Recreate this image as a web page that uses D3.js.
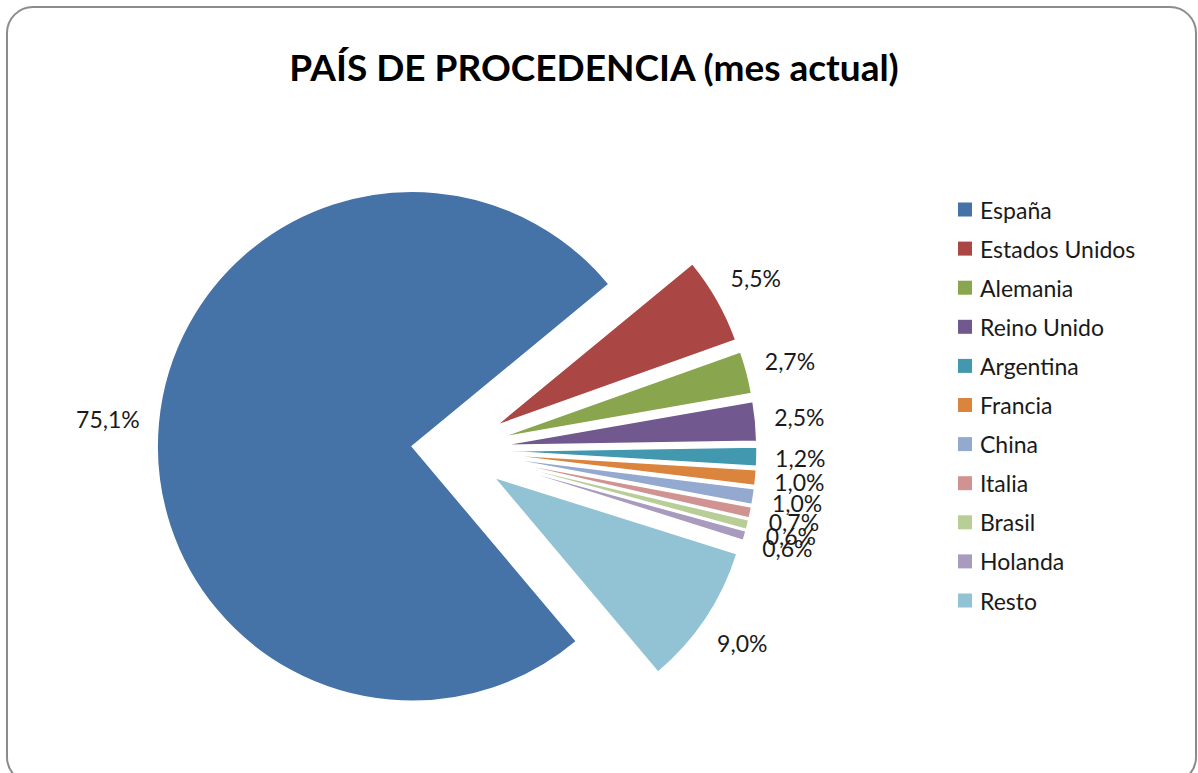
<!DOCTYPE html>
<html>
<head>
<meta charset="utf-8">
<script src="https://cdn.jsdelivr.net/npm/d3@7"></script>
<style>
  html, body { margin: 0; padding: 0; background: #fff; }
  svg { display: block; }
  text { font-family: Lato, "Open Sans", sans-serif; fill: #1a1a1a; }
</style>
</head>
<body>
<svg id="chart" width="1198" height="773"></svg>
<script>
// ---- data ----
const categories = ["España", "Estados Unidos", "Alemania", "Reino Unido", "Argentina",
                    "Francia", "China", "Italia", "Brasil", "Holanda", "Resto"];
const values = [75.1, 5.5, 2.7, 2.5, 1.2, 1.0, 1.0, 0.7, 0.6, 0.6, 9.0];
const labels = ["75,1%", "5,5%", "2,7%", "2,5%", "1,2%", "1,0%", "1,0%", "0,7%", "0,6%", "0,6%", "9,0%"];
const colors = ["#4572A7", "#AA4643", "#89A54E", "#71588F", "#4198AF", "#DB843D",
                "#93A9CF", "#D19392", "#B9CD96", "#A99BBD", "#92C3D4"];
const title = "PAÍS DE PROCEDENCIA (mes actual)";

// ---- layout ----
const W = 1198, H = 773;
const svg = d3.select("#chart");

svg.append("rect")
  .attr("x", 7).attr("y", 7)
  .attr("width", 1189).attr("height", 776)
  .attr("rx", 26).attr("ry", 26)
  .attr("fill", "#fff")
  .attr("stroke", "#8c8c8c").attr("stroke-width", 2);

svg.append("text")
  .attr("x", 594).attr("y", 81)
  .attr("text-anchor", "middle")
  .style("font-size", "37px").style("font-weight", "bold")
  .style("fill", "#000")
  .text(title);

const cx = 453, cy = 450, R = 255;
const deg = Math.PI / 180;
const startA = 139.9 * deg;

const pie = d3.pie().sort(null).value(d => d)
  .startAngle(startA).endAngle(startA + 2 * Math.PI);
const arcs = pie(values);
const arc = d3.arc().innerRadius(0).outerRadius(R);

function explodeFor(i) { return i === 0 ? 41 : 49; }
function unit(a) { return [Math.sin(a), -Math.cos(a)]; }

const g = svg.append("g").attr("transform", `translate(${cx},${cy})`);

arcs.forEach((a, i) => {
  const mid = (a.startAngle + a.endAngle) / 2;
  const [ux, uy] = unit(mid);
  const e = explodeFor(i);
  g.append("path")
    .attr("d", arc(a))
    .attr("transform", `translate(${ux * e},${uy * e})`)
    .attr("fill", colors[i])
    .attr("stroke", "#fff").attr("stroke-width", 1.5)
    .attr("stroke-linejoin", "miter");
});

// labels (outside end)
const labelFont = 23;
arcs.forEach((a, i) => {
  const mid = (a.startAngle + a.endAngle) / 2;
  const [ux, uy] = unit(mid);
  const e = explodeFor(i);
  const t = g.append("text")
    .style("font-size", labelFont + "px")
    .attr("text-anchor", "middle")
    .attr("dominant-baseline", "central")
    .text(labels[i]);
  const w = t.node().getComputedTextLength();
  const h = 17;
  const ext = Math.abs(ux) * w / 2 + Math.abs(uy) * h / 2;
  const L = R + 18 + ext;
  t.attr("x", ux * e + ux * L).attr("y", uy * e + uy * L);
});

// legend
const lg = svg.append("g");
const legX = 958, legY0 = 209.5, legStep = 39.1;
categories.forEach((c, i) => {
  const y = legY0 + i * legStep;
  lg.append("rect")
    .attr("x", legX).attr("y", y - 7)
    .attr("width", 14).attr("height", 14)
    .attr("fill", colors[i]);
  lg.append("text")
    .attr("x", legX + 22).attr("y", y)
    .attr("dominant-baseline", "central")
    .style("font-size", "23px")
    .text(c);
});
</script>
</body>
</html>
